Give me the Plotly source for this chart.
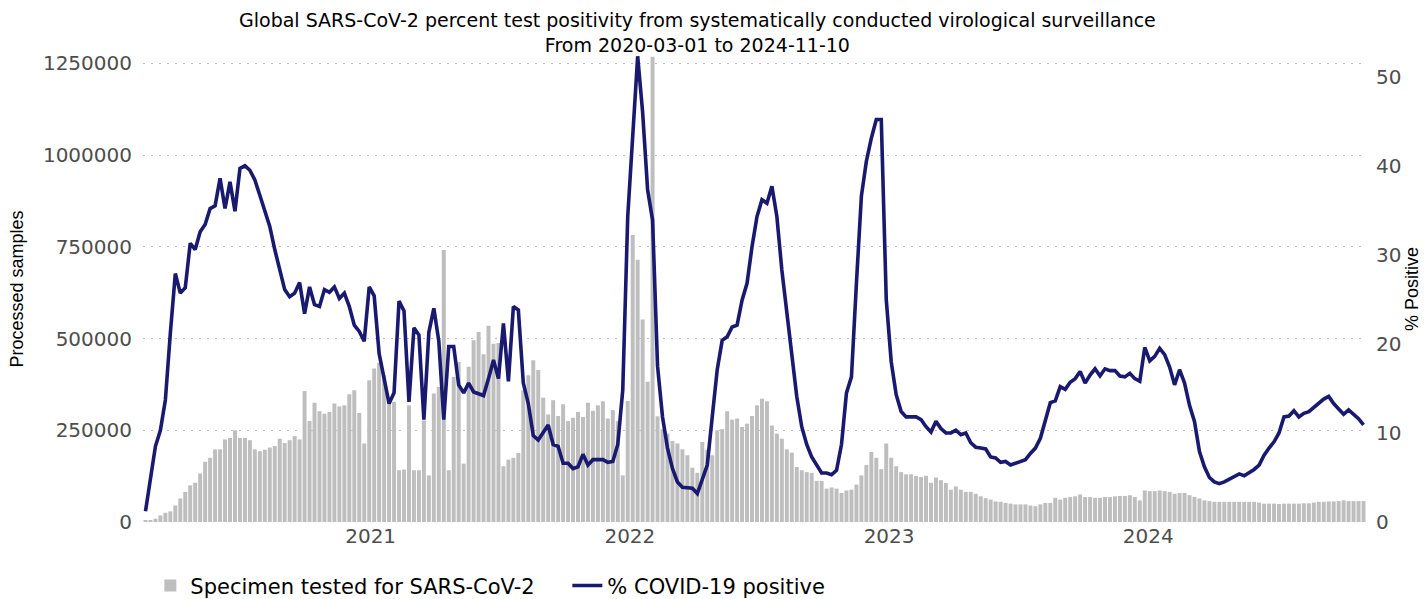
import pandas as pd
import plotly.graph_objects as go

# Weekly data, 2020-03-01 .. 2024-11-10
dates = pd.date_range("2020-03-01", periods=246, freq="7D")

# Processed samples (thousands)
samples_k = [
    3, 5, 9, 18, 25, 29, 45, 64, 82, 100,
    107, 132, 164, 175, 198, 198, 225, 229, 250, 229,
    229, 223, 198, 193, 197, 203, 207, 227, 215, 223,
    234, 225, 357, 275, 325, 302, 295, 300, 323, 315,
    318, 348, 359, 297, 214, 386, 418, 434, 400, 327,
    327, 141, 143, 318, 141, 141, 277, 127, 350, 368,
    741, 141, 395, 436, 159, 423, 495, 518, 457, 535,
    486, 488, 152, 170, 175, 188, 359, 400, 441, 414,
    339, 293, 332, 289, 321, 275, 284, 300, 286, 325,
    303, 318, 329, 282, 305, 275, 127, 330, 782, 715,
    552, 382, 1268, 288, 253, 241, 221, 214, 198, 182,
    148, 134, 218, 197, 182, 250, 253, 302, 279, 282,
    259, 268, 289, 318, 336, 329, 263, 241, 227, 198,
    189, 150, 141, 136, 134, 112, 112, 91, 94, 91,
    79, 86, 88, 102, 127, 155, 191, 175, 144, 214,
    175, 152, 136, 130, 130, 125, 123, 126, 107, 121,
    114, 106, 88, 97, 88, 82, 82, 77, 70, 65,
    61, 56, 55, 52, 50, 48, 48, 48, 45, 43,
    48, 52, 52, 66, 61, 66, 68, 70, 75, 68,
    68, 66, 66, 68, 68, 70, 71, 71, 73, 68,
    59, 86, 84, 84, 86, 84, 82, 77, 79, 79,
    73, 68, 64, 59, 57, 55, 55, 55, 55, 55,
    55, 55, 55, 55, 53, 50, 50, 50, 49, 50,
    50, 50, 50, 51, 51, 53, 55, 55, 56, 56,
    57, 59, 57, 57, 57, 57,
]
samples = [v * 1000 for v in samples_k]

# Percent positive
positivity = [
    1.2, 4.7, 8.5, 10.3, 13.7, 21.2, 27.9, 25.7, 26.3, 31.3,
    30.6, 32.6, 33.4, 35.2, 35.5, 38.6, 35.2, 38.2, 34.9, 39.7,
    40.0, 39.5, 38.4, 36.7, 35.1, 33.2, 30.6, 28.3, 26.1, 25.3,
    25.7, 26.9, 23.4, 26.4, 24.4, 24.2, 26.1, 25.8, 26.4, 25.1,
    25.7, 24.2, 22.1, 21.4, 20.3, 26.4, 25.4, 18.9, 16.0, 13.3,
    14.5, 24.8, 23.7, 13.5, 21.8, 21.0, 11.5, 21.3, 24.0, 20.3,
    11.5, 19.7, 19.7, 15.4, 14.5, 15.6, 14.6, 14.4, 14.2, 16.1,
    18.2, 16.1, 22.3, 15.8, 24.2, 23.8, 15.6, 13.3, 9.7, 9.2,
    10.0, 10.9, 8.7, 8.5, 6.6, 6.6, 6.0, 6.2, 7.6, 6.4,
    7.0, 7.0, 7.0, 6.7, 6.8, 8.7, 14.8, 34.3, 43.7, 52.3,
    46.0, 37.3, 33.9, 17.5, 11.8, 8.3, 6.0, 4.5, 3.9, 3.9,
    3.8, 3.2, 4.9, 6.4, 11.8, 17.1, 20.4, 20.8, 21.9, 22.1,
    24.9, 26.8, 30.9, 34.3, 36.2, 35.8, 37.7, 34.3, 28.3, 23.4,
    18.6, 14.1, 10.7, 8.7, 7.3, 6.3, 5.5, 5.5, 5.3, 5.8,
    8.7, 14.5, 16.3, 26.8, 36.6, 40.5, 43.1, 45.2, 45.2, 25.0,
    18.0, 14.3, 12.4, 11.8, 11.8, 11.8, 11.5, 10.7, 10.1, 11.3,
    10.5, 10.0, 10.0, 10.3, 9.8, 10.0, 8.9, 8.4, 8.3, 8.2,
    7.3, 7.2, 6.7, 6.8, 6.4, 6.6, 6.8, 7.0, 7.7, 8.3,
    9.4, 11.6, 13.4, 13.6, 15.2, 14.9, 15.7, 16.1, 16.9, 15.6,
    16.5, 17.2, 16.4, 17.2, 17.0, 17.0, 16.4, 16.3, 16.7, 16.1,
    15.8, 19.6, 18.1, 18.6, 19.5, 18.8, 17.4, 15.4, 17.1, 15.6,
    13.1, 11.3, 7.9, 6.2, 5.0, 4.5, 4.3, 4.5, 4.8, 5.1,
    5.4, 5.2, 5.5, 5.9, 6.4, 7.5, 8.3, 9.0, 10.0, 11.8,
    11.9, 12.5, 11.8, 12.2, 12.4, 12.9, 13.4, 13.8, 14.1, 13.3,
    12.7, 12.1, 12.6, 12.1, 11.6, 10.9,
]

x_tick_dates = ["2021-01-12", "2022-01-12", "2023-01-12", "2024-01-12"]
x_tick_labels = ["2021", "2022", "2023", "2024"]
y_left_ticks = [0, 250000, 500000, 750000, 1000000, 1250000]
y_left_labels = ["0", "250000", "500000", "750000", "1000000", "1250000"]
y_right_ticks = [0, 10, 20, 30, 40, 50]
y_right_labels = ["0", "10", "20", "30", "40", "50"]

TICK_FONT = dict(family="DejaVu Sans, sans-serif", size=20, color="#4d4d4d")
AXIS_TITLE_FONT = dict(family="Liberation Sans, Arial, sans-serif", size=18, color="black")

fig = go.Figure()
fig.add_trace(go.Bar(
    x=dates, y=samples, name="Specimen tested for SARS-CoV-2",
    marker=dict(color="#bebebe", line=dict(width=0)), yaxis="y",
))
fig.add_trace(go.Scatter(
    x=dates, y=positivity, name="% COVID-19 positive", mode="lines",
    line=dict(color="#191970", width=3.6), yaxis="y2",
))

fig.update_layout(
    width=1428, height=599, autosize=False,
    margin=dict(l=143, r=62, t=56, b=77, autoexpand=False),
    paper_bgcolor="white", plot_bgcolor="white",
    bargap=0.2,
    font=dict(family="DejaVu Sans, sans-serif", color="black"),
    xaxis=dict(
        type="date", range=["2020-02-26 12:00", "2024-11-13 12:00"],
        tickvals=x_tick_dates, ticktext=x_tick_labels,
        showgrid=False, zeroline=False, showline=False, ticks="",
        tickfont=TICK_FONT,
    ),
    yaxis=dict(
        range=[0, 1270000], tickvals=y_left_ticks, ticktext=y_left_labels,
        showgrid=True, gridcolor="#bdbdbd", griddash="2px,6px", gridwidth=1.3,
        zeroline=False, showline=False, ticks="", ticklabelstandoff=10,
        tickfont=TICK_FONT,
        title=dict(text="Processed samples", font=AXIS_TITLE_FONT, standoff=14),
    ),
    yaxis2=dict(
        range=[0, 52.33], tickvals=y_right_ticks, ticktext=y_right_labels,
        overlaying="y", side="right", showgrid=False, zeroline=False,
        showline=False, ticks="", ticklabelstandoff=9, tickfont=TICK_FONT,
        title=dict(text="% Positive", font=AXIS_TITLE_FONT, standoff=4),
    ),
    legend=dict(
        orientation="h", x=0.006, xanchor="left", y=-0.093, yanchor="top",
        entrywidth=372, entrywidthmode="pixels",
        font=dict(family="DejaVu Sans, sans-serif", size=21, color="black"),
        bgcolor="rgba(0,0,0,0)",
    ),
    annotations=[dict(
        text="Global SARS-CoV-2 percent test positivity from systematically conducted virological surveillance<br>From 2020-03-01 to 2024-11-10",
        xref="paper", yref="paper", x=0.4538, y=1.105,
        xanchor="center", yanchor="top", showarrow=False,
        font=dict(family="DejaVu Sans, sans-serif", size=19, color="black"),
    )],
)

fig.write_html("out.html")
